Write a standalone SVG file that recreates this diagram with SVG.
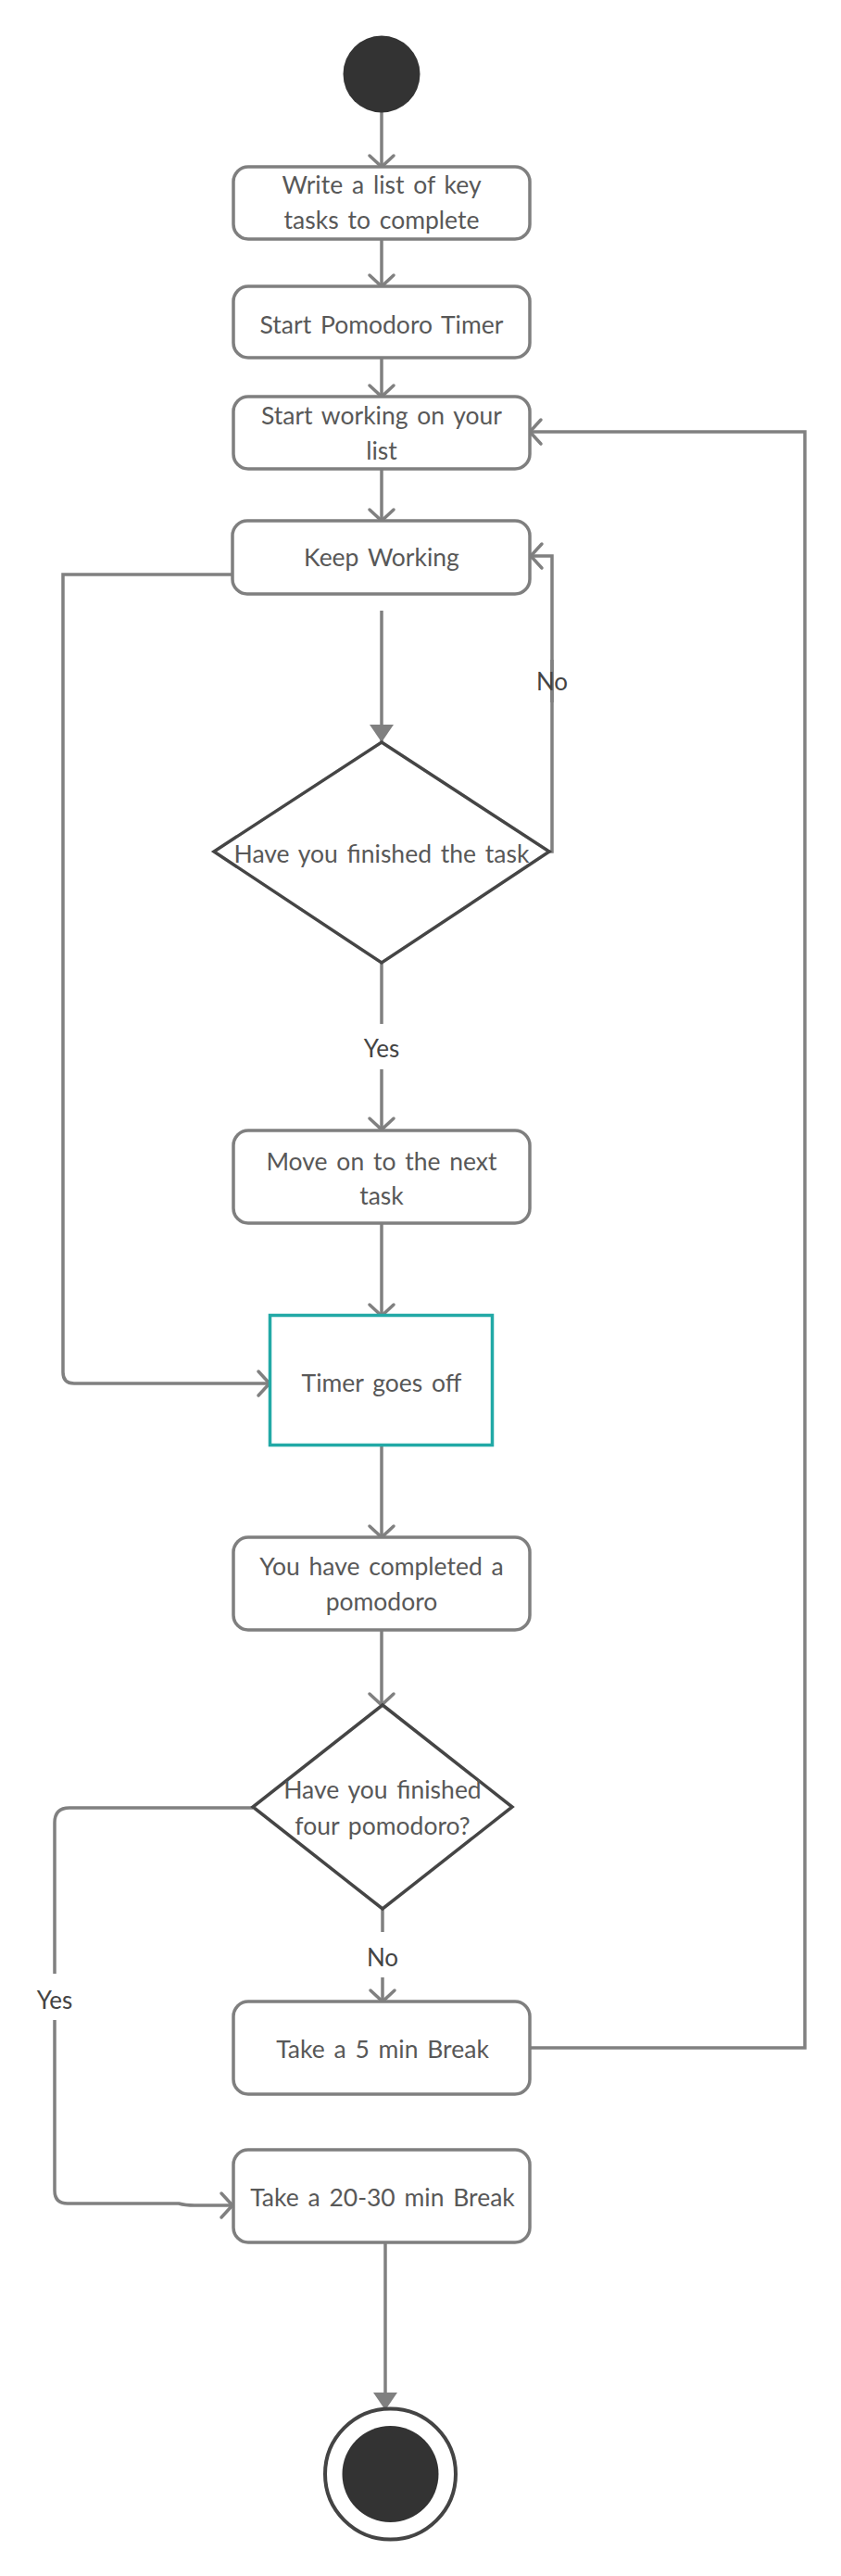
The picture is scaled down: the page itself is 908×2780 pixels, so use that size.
<svg xmlns="http://www.w3.org/2000/svg" width="908" height="2780" viewBox="0 0 908 2780">
<style>
.box{fill:#fff;stroke:#7f7f7f;stroke-width:3.5}
.dia{fill:#fff;stroke:#454545;stroke-width:3.5;stroke-linejoin:miter}
.timer{fill:#fff;stroke:#22a9a6;stroke-width:3.5}
.t{font-family:Lato,"Liberation Sans",sans-serif;font-size:26.5px;fill:#585858;text-anchor:middle;word-spacing:3px}
.lbl{font-family:Lato,"Liberation Sans",sans-serif;font-size:26px;fill:#444;text-anchor:middle}
.c{fill:none;stroke:#808080;stroke-width:3.5}
.ca{fill:none;stroke:#808080;stroke-width:3.5;marker-end:url(#open)}
.cs{fill:none;stroke:#808080;stroke-width:3.5;marker-end:url(#solid)}
</style>
<defs>
<marker id="open" markerUnits="userSpaceOnUse" viewBox="-16 -16 20 32" refX="0" refY="0" markerWidth="20" markerHeight="32" orient="auto" overflow="visible">
<path d="M-12,-13 L0,0 L-12,13" fill="none" stroke="#808080" stroke-width="3.5" stroke-linecap="round"/>
</marker>
<marker id="solid" markerUnits="userSpaceOnUse" viewBox="-22 -16 24 32" refX="0" refY="0" markerWidth="24" markerHeight="32" orient="auto" overflow="visible">
<path d="M-19,-13 L0,0 L-19,13 Z" fill="#808080"/>
</marker>
</defs>
<rect x="0" y="0" width="908" height="2780" fill="#fff"/>
<g id="connectors">
<path class="ca" d="M412,121 L412,180"/>
<path class="ca" d="M412,258 L412,309"/>
<path class="ca" d="M412,386 L412,428"/>
<path class="ca" d="M412,506 L412,562"/>
<path class="cs" d="M412,659 L412,801"/>
<path class="c" d="M593,919 L596,919 L596,712"/>
<path class="ca" d="M596,758 L596,600 L573,600"/>
<path class="ca" d="M251,620 L68,620 L68,1481 Q68,1493 80,1493 L291,1493"/>
<path class="c" d="M412,1039 L412,1105"/>
<path class="ca" d="M412,1154 L412,1219"/>
<path class="ca" d="M412,1320 L412,1420"/>
<path class="ca" d="M412,1559 L412,1659"/>
<path class="ca" d="M412,1759 L412,1840"/>
<path class="c" d="M413,2060 L413,2085"/>
<path class="ca" d="M413,2134 L413,2160"/>
<path class="ca" d="M572,2210 L869,2210 L869,466 L572,466"/>
<path class="c" d="M273,1951 L75,1951 Q59,1951 59,1967 L59,2130"/>
<path class="ca" d="M59,2180 L59,2364 Q59,2378 73,2378 L193,2378 Q200,2380 210,2380 L251,2380"/>
<path class="cs" d="M416,2420 L416,2601"/>
<text class="lbl" x="596" y="745">No</text>
<text class="lbl" x="412" y="1141">Yes</text>
<text class="lbl" x="413" y="2122">No</text>
<text class="lbl" x="59" y="2168">Yes</text>
</g>
<g id="start"><circle cx="412" cy="80" r="41.5" fill="#333"/></g>
<g id="write-list"><rect class="box" x="252" y="180" width="320" height="78" rx="16"/><text class="t" x="412" y="209">Write a list of key</text><text class="t" x="412" y="247">tasks to complete</text></g>
<g id="start-timer"><rect class="box" x="252" y="309" width="320" height="77" rx="16"/><text class="t" x="412" y="360">Start Pomodoro Timer</text></g>
<g id="start-working"><rect class="box" x="252" y="428" width="320" height="78" rx="16"/><text class="t" x="412" y="458">Start working on your</text><text class="t" x="412" y="495.5">list</text></g>
<g id="keep-working"><rect class="box" x="251" y="562" width="321" height="79" rx="16"/><text class="t" x="412" y="611">Keep Working</text></g>
<g id="finished-task"><polygon class="dia" points="412,801 593,919 412,1039 231,919"/><text class="t" x="412" y="931">Have you finished the task</text></g>
<g id="next-task"><rect class="box" x="252" y="1220" width="320" height="100" rx="16"/><text class="t" x="412" y="1263">Move on to the next</text><text class="t" x="412" y="1300">task</text></g>
<g id="timer-off"><rect class="timer" x="291.5" y="1419.5" width="240" height="140"/><text class="t" x="412" y="1502">Timer goes off</text></g>
<g id="completed"><rect class="box" x="252" y="1659" width="320" height="100" rx="16"/><text class="t" x="412" y="1700">You have completed a</text><text class="t" x="412" y="1738">pomodoro</text></g>
<g id="four-pomodoro"><polygon class="dia" points="413,1840 553,1950 413,2060 273,1950"/><text class="t" x="413" y="1941">Have you finished</text><text class="t" x="413" y="1979.5">four pomodoro?</text></g>
<g id="short-break"><rect class="box" x="252" y="2160" width="320" height="100" rx="16"/><text class="t" x="413" y="2221">Take a 5 min Break</text></g>
<g id="long-break"><rect class="box" x="252" y="2320" width="320" height="100" rx="16"/><text class="t" x="413" y="2381">Take a 20-30 min Break</text></g>
<g id="end"><circle cx="421.5" cy="2670" r="70.5" fill="#fff" stroke="#444" stroke-width="4"/><circle cx="421.5" cy="2670" r="52" fill="#333"/></g>
</svg>
